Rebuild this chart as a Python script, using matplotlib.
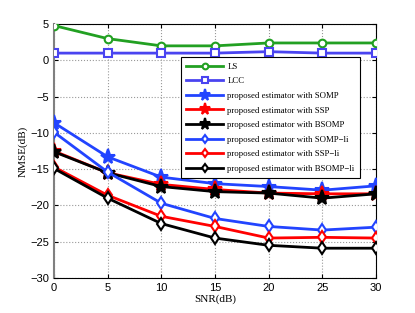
import matplotlib.pyplot as plt
import numpy as np

snr = [0, 5, 10, 15, 20, 25, 30]

nmse_ls = [4.8, 3.0, 2.0, 2.0, 2.4, 2.4, 2.4]
nmse_lcc = [1.0, 1.0, 1.0, 1.0, 1.2, 1.0, 1.0]
nmse_somp = [-8.6, -13.3, -16.1, -17.0, -17.4, -17.9, -17.3]
nmse_ssp = [-12.5, -15.5, -17.1, -17.8, -18.3, -18.4, -18.4]
nmse_bsomp = [-12.6, -15.5, -17.4, -18.1, -18.3, -19.0, -18.4]
nmse_somp_li = [-9.9, -15.4, -19.7, -21.8, -22.9, -23.4, -23.0]
nmse_ssp_li = [-14.7, -18.6, -21.5, -22.9, -24.5, -24.4, -24.5]
nmse_bsomp_li = [-14.9, -19.0, -22.5, -24.5, -25.5, -25.9, -25.9]

labels = [
    "LS",
    "LCC",
    "proposed estimator with SOMP",
    "proposed estimator with SSP",
    "proposed estimator with BSOMP",
    "proposed estimator with SOMP\u2212li",
    "proposed estimator with SSP\u2212li",
    "proposed estimator with BSOMP\u2212li",
]

green = "#22a022"
purple_blue = "#4a44f0"
blue = "#2244ff"

fig = plt.figure(figsize=(4.15, 3.13), dpi=100)
ax = fig.add_axes([0.130, 0.112, 0.776, 0.811])

# style per curve: (data, color, marker, marker size, filled)
curves = [
    (nmse_ls, green, "o", 5.5, False),
    (nmse_lcc, purple_blue, "s", 5.5, False),
    (nmse_somp, blue, "*", 11, True),
    (nmse_ssp, "red", "*", 11, True),
    (nmse_bsomp, "black", "*", 11, True),
    (nmse_somp_li, blue, "d", 6, False),
    (nmse_ssp_li, "red", "d", 6, False),
    (nmse_bsomp_li, "black", "d", 6, False),
]

for (vals, c, m, ms, filled), lab in zip(curves, labels):
    ax.plot(snr, vals, color=c, marker=m, ms=ms, lw=2,
            mfc=c if filled else "white", mec=c, mew=1.5,
            label=lab, zorder=3)

ax.set_xlim(0, 30)
ax.set_ylim(-30, 5)
ax.set_xticks(np.arange(0, 31, 5))
ax.set_yticks(np.arange(-30, 6, 5))
ax.grid(True, ls=":", color="#999999", lw=0.8)
ax.tick_params(direction="in", top=True, right=True, labelsize=8, length=3)
for lbl in ax.get_xticklabels() + ax.get_yticklabels():
    lbl.set_family("Liberation Sans")
ax.spines["left"].set_color("#808080")
ax.spines["left"].set_linewidth(1.5)

ax.set_xlabel("SNR(dB)", family="Liberation Serif", fontsize=8, labelpad=1)
ax.set_ylabel("NMSE(dB)", family="Liberation Serif", fontsize=8, labelpad=2)

leg = ax.legend(loc="upper right", bbox_to_anchor=(0.950, 0.869),
                prop={"family": "Liberation Serif", "size": 6.3},
                handlelength=4.2, handletextpad=0.5, labelspacing=0.74,
                borderpad=0.6, markerscale=0.75, fancybox=False,
                edgecolor="black", framealpha=1, borderaxespad=0)
leg.get_frame().set_linewidth(0.8)

fig.savefig("out.png")
